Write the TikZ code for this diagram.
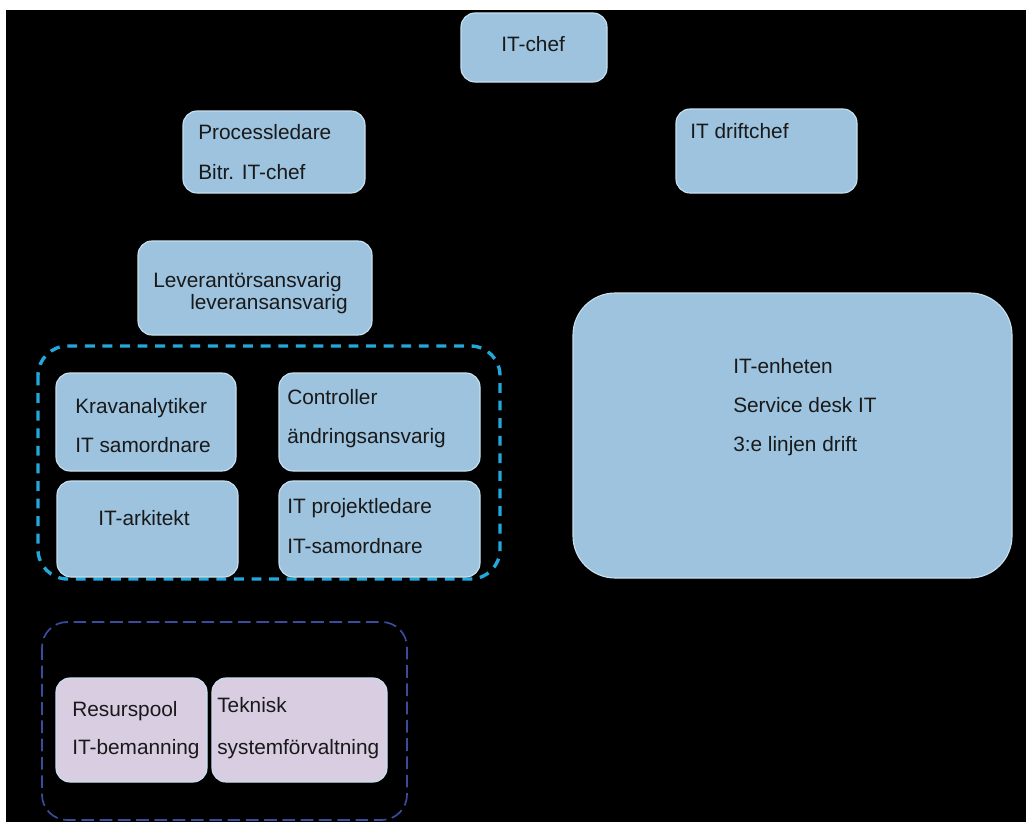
\documentclass[tikz,border=0pt]{standalone}
\usepackage{fontspec}
\setmainfont{Liberation Sans}
\usepackage{xcolor}

\definecolor{boxblue}{HTML}{9DC3DF}
\definecolor{boxedge}{HTML}{C9E1EF}
\definecolor{boxlila}{HTML}{D9CDE2}
\definecolor{grpcyan}{HTML}{22A8DA}
\definecolor{grpnavy}{HTML}{3C4C9C}

\tikzset{
  box/.style={fill=boxblue, draw=boxedge, line width=0.8pt, rounded corners=10pt},
  lilabox/.style={fill=boxlila, draw=boxedge, line width=0.8pt, rounded corners=10pt},
  lbl/.style={anchor=base west, inner sep=0pt, font=\fontsize{14.8}{18}\selectfont, text=black!90}
}

\begin{document}
\begin{tikzpicture}[x=0.025cm, y=-0.025cm]
    \useasboundingbox (0,0) rectangle (1026,822);
    \fill[white] (0,0) rectangle (1026,822);
    \fill[black] (6,10) rectangle (1026,822);

    % top level
    \draw[box] (461,13) rectangle (607,82);
    \node[lbl] (itchef) at (501,51) {IT-chef};

    \draw[box] (183,111) rectangle (365,193);
    \node[lbl] (process) at (198,139) {Processledare};
    \node[lbl] (bitr) at (198,179) {Bitr. IT-chef};

    \draw[box] (676,109) rectangle (857,193);
    \node[lbl] (drift) at (690,138) {IT driftchef};

    \draw[box] (138,241) rectangle (372,335);
    \node[lbl] (leverantor) at (153,287) {Leverantörsansvarig};
    \node[lbl] (leverans) at (190,309) {leveransansvarig};

    % group with four roles
    \draw[grpcyan, line width=2.4pt, dash pattern=on 7pt off 5.5pt, rounded corners=21pt] (38,346) rectangle (500,579);

    \draw[box] (56,373) rectangle (236,471);
    \node[lbl] (krav) at (75,413) {Kravanalytiker};
    \node[lbl] (samord) at (75,452) {IT samordnare};

    \draw[box] (279,373) rectangle (480,471);
    \node[lbl] (controller) at (287,404) {Controller};
    \node[lbl] (andring) at (287,443) {ändringsansvarig};

    \draw[box] (57,481) rectangle (238,577);
    \node[lbl] (arkitekt) at (98,525) {IT-arkitekt};

    \draw[box] (279,481) rectangle (480,577);
    \node[lbl] (projekt) at (287,513) {IT projektledare};
    \node[lbl] (samord2) at (287,553) {IT-samordnare};

    % IT unit
    \draw[box, rounded corners=30pt] (573,293) rectangle (1012,578);
    \node[lbl] (enheten) at (733,373) {IT-enheten};
    \node[lbl] (service) at (733,412) {Service desk IT};
    \node[lbl] (linjen) at (733,451) {3:e linjen drift};

    % resource group
    \draw[grpnavy, line width=1.2pt, dash pattern=on 9pt off 4pt, rounded corners=18pt] (42,622) rectangle (407,820);

    \draw[lilabox] (56,678) rectangle (207,782);
    \node[lbl] (resurs) at (72,716) {Resurspool};
    \node[lbl] (bemann) at (72,754) {IT-bemanning};

    \draw[lilabox] (212,678) rectangle (387,782);
    \node[lbl] (teknisk) at (217,712) {Teknisk};
    \node[lbl] (sysforv) at (217,754) {systemförvaltning};

\end{tikzpicture}
\end{document}
